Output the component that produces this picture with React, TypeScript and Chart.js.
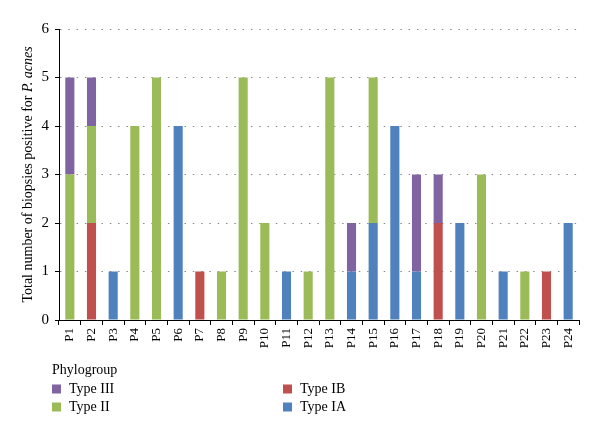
import React, { useEffect, useRef } from "react";
import { Chart, registerables } from "chart.js";

Chart.register(...registerables);

const categories = ["P1","P2","P3","P4","P5","P6","P7","P8","P9","P10","P11","P12","P13","P14","P15","P16","P17","P18","P19","P20","P21","P22","P23","P24"];
const typeIA =  [0,0,1,0,0,4,0,0,0,0,1,0,0,1,2,4,1,0,2,0,1,0,0,2];
const typeIB =  [0,2,0,0,0,0,1,0,0,0,0,0,0,0,0,0,0,2,0,0,0,0,1,0];
const typeII =  [3,2,0,4,5,0,0,1,5,2,0,1,5,0,3,0,0,0,0,3,0,1,0,0];
const typeIII = [2,1,0,0,0,0,0,0,0,0,0,0,0,1,0,0,2,1,0,0,0,0,0,0];
const yTicks = [0,1,2,3,4,5,6];

const FONT = "'Liberation Serif', 'Times New Roman', serif";
const COLORS = { IA: "#4F81BD", IB: "#C0504D", II: "#9BBB59", III: "#8064A2" };

const annotations = {
  id: "annotations",
  afterDraw(chart: any) {
    const ctx = chart.ctx;
    const area = chart.chartArea;
    ctx.save();
    // Y axis title with italic species name
    const part1 = "Total number of biopsies positive for ";
    const part2 = "P. acnes";
    ctx.font = `14px ${FONT}`;
    const w1 = ctx.measureText(part1).width;
    ctx.font = `italic 14px ${FONT}`;
    const w2 = ctx.measureText(part2).width;
    const total = w1 + w2;
    ctx.translate(28, (area.top + area.bottom) / 2);
    ctx.rotate(-Math.PI / 2);
    ctx.fillStyle = "#000";
    ctx.textBaseline = "middle";
    ctx.textAlign = "left";
    ctx.font = `14px ${FONT}`;
    ctx.fillText(part1, -total / 2, 0);
    ctx.font = `italic 14px ${FONT}`;
    ctx.fillText(part2, -total / 2 + w1, 0);
    ctx.restore();

    // Legend
    ctx.save();
    ctx.fillStyle = "#000";
    ctx.textBaseline = "middle";
    ctx.textAlign = "left";
    ctx.font = `14px ${FONT}`;
    ctx.fillText("Phylogroup", 52, 370);
    const items = [
      { label: "Type III", color: COLORS.III, x: 52, y: 389 },
      { label: "Type II", color: COLORS.II, x: 52, y: 407 },
      { label: "Type IB", color: COLORS.IB, x: 283, y: 389 },
      { label: "Type IA", color: COLORS.IA, x: 283, y: 407 },
    ];
    for (const it of items) {
      ctx.fillStyle = it.color;
      ctx.fillRect(it.x, it.y - 4.5, 9, 9);
      ctx.fillStyle = "#000";
      ctx.fillText(it.label, it.x + 17, it.y);
    }
    ctx.restore();
  },
};

export default function App() {
  const ref = useRef<HTMLCanvasElement>(null);
  useEffect(() => {
    if (!ref.current) return;
    const chart = new Chart(ref.current, {
      type: "bar",
      data: {
        labels: categories,
        datasets: [
          { label: "Type IA", data: typeIA, backgroundColor: COLORS.IA },
          { label: "Type IB", data: typeIB, backgroundColor: COLORS.IB },
          { label: "Type II", data: typeII, backgroundColor: COLORS.II },
          { label: "Type III", data: typeIII, backgroundColor: COLORS.III },
        ],
      },
      plugins: [annotations],
      options: {
        animation: false,
        responsive: true,
        maintainAspectRatio: false,
        datasets: { bar: { barPercentage: 0.42, categoryPercentage: 1 } },
        layout: { padding: { left: 0, right: 21, top: 29, bottom: 0 } },
        plugins: { legend: { display: false }, tooltip: { enabled: false }, title: { display: false } },
        scales: {
          x: {
            stacked: true,
            afterFit: (s: any) => { s.height = 117; },
            grid: { display: true, drawOnChartArea: false, drawTicks: true, tickLength: 5, color: "#000", offset: true },
            border: { display: true, color: "#000", width: 1 },
            ticks: { color: "#000", font: { family: FONT, size: 13 }, minRotation: 90, maxRotation: 90, padding: 3, autoSkip: false },
          },
          y: {
            stacked: true,
            min: 0,
            max: 6,
            afterFit: (s: any) => { s.width = 59; },
            afterBuildTicks: (s: any) => { s.ticks = yTicks.map((v) => ({ value: v })); },
            grid: { color: "#8a8a8a", lineWidth: 1, drawTicks: true, tickLength: 4, tickColor: "#000" },
            border: { display: true, color: "#000", width: 1, dash: [1.5, 6.8] },
            ticks: { color: "#000", font: { family: FONT, size: 15 }, padding: 6 },
          },
        },
      },
    });
    return () => chart.destroy();
  }, []);
  return (
    <div style={{ position: "absolute", left: 0, top: 0, width: 600, height: 437, background: "#fff" }}>
      <canvas ref={ref} />
    </div>
  );
}
